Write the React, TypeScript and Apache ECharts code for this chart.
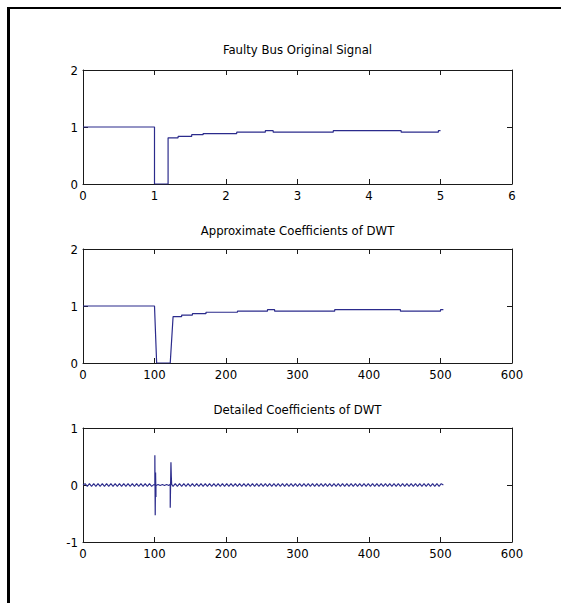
import React, { useEffect, useRef } from "react";
import * as echarts from "echarts";

// ---------- data ----------
const signalTime = [0, 1.0, 1.0, 1.19, 1.19, 1.33, 1.33, 1.52, 1.52, 1.68, 1.68, 2.15, 2.15, 2.55, 2.55, 2.66, 2.66, 3.5, 3.5, 4.45, 4.45, 4.97, 4.97, 5.0];
const signalValue = [1.0, 1.0, 0, 0, 0.81, 0.81, 0.835, 0.835, 0.865, 0.865, 0.885, 0.885, 0.91, 0.91, 0.935, 0.935, 0.91, 0.91, 0.935, 0.935, 0.91, 0.91, 0.935, 0.935];

const approxIndex = [0, 100, 103, 122, 126, 138, 138, 153, 153, 172, 172, 216, 216, 258, 258, 268, 268, 352, 352, 444, 444, 500, 500, 504];
const approxValue = [1.0, 1.0, 0, 0, 0.815, 0.815, 0.84, 0.84, 0.865, 0.865, 0.89, 0.89, 0.91, 0.91, 0.935, 0.935, 0.91, 0.91, 0.935, 0.935, 0.91, 0.91, 0.935, 0.935];

// detail coefficients read every 3rd sample (ripple)
const DETAIL_STEP = 3;
const detailRipple = [
  0, 0.024, -0.023, 0.025, -0.024, 0.023, -0.025, 0.024, -0.024, 0.023,
  -0.024, 0.025, -0.023, 0.024, -0.025, 0.024, -0.023, 0.024, -0.024, 0.025,
  -0.024, 0.023, -0.024, 0.025, -0.023, 0.024, -0.024, 0.023, -0.025, 0.024,
  -0.024, 0.023, -0.024, 0.008, -0.007, 0.008, -0.007, 0.007, -0.008, 0.007,
  -0.008, 0.024, -0.023, 0.025, -0.024, 0.023, -0.024, 0.025, -0.023, 0.024,
  -0.025, 0.024, -0.023, 0.024, -0.024, 0.025, -0.024, 0.023, -0.024, 0.025,
  -0.023, 0.024, -0.024, 0.023, -0.025, 0.024, -0.024, 0.023, -0.024, 0.025,
  -0.023, 0.024, -0.025, 0.024, -0.023, 0.024, -0.024, 0.025, -0.024, 0.023,
  -0.024, 0.025, -0.023, 0.024, -0.024, 0.023, -0.025, 0.024, -0.024, 0.023,
  -0.024, 0.025, -0.023, 0.024, -0.025, 0.024, -0.023, 0.024, -0.024, 0.025,
  -0.024, 0.023, -0.024, 0.025, -0.023, 0.024, -0.024, 0.023, -0.025, 0.024,
  -0.024, 0.023, -0.024, 0.025, -0.023, 0.024, -0.025, 0.024, -0.023, 0.024,
  -0.024, 0.025, -0.024, 0.023, -0.024, 0.025, -0.023, 0.024, -0.024, 0.023,
  -0.025, 0.024, -0.024, 0.023, -0.024, 0.025, -0.023, 0.024, -0.025, 0.024,
  -0.023, 0.024, -0.024, 0.025, -0.024, 0.023, -0.024, 0.025, -0.023, 0.024,
  -0.024, 0.023, -0.025, 0.024, -0.024, 0.023, -0.024, 0.025, -0.023, 0.024,
  -0.025, 0.024, -0.023, 0.024, -0.024, 0.025, -0.024, 0.023, 0.0,
];
const spike1Index = [100.5, 100.5, 101, 101.5, 102, 102];
const spike1Value = [0, 0.52, -0.53, 0.22, -0.21, 0];
const spike2Index = [122, 122, 123, 123.5, 124];
const spike2Value = [0, -0.4, 0.4, 0.15, 0];

const titles = ["Faulty Bus Original Signal", "Approximate Coefficients of DWT", "Detailed Coefficients of DWT"];
const xRanges = [
  { min: 0, max: 6, interval: 1 },
  { min: 0, max: 600, interval: 100 },
  { min: 0, max: 600, interval: 100 },
];
const yRanges = [
  { min: 0, max: 2, interval: 1 },
  { min: 0, max: 2, interval: 1 },
  { min: -1, max: 1, interval: 1 },
];

// ---------- layout ----------
const FONT = "'Liberation Sans Narrow', 'DejaVu Sans Condensed', 'Arial Narrow', sans-serif";
const FONT_SIZE = 13;
const PLOT_LEFT = 83;
const PLOT_WIDTH = 429;
const PLOT_HEIGHT = 114;
const PLOT_TOPS = [70, 249, 428];
const TITLE_Y = [49, 230, 409];
const LINE_COLOR = "#2b2b8c";
const AXIS_COLOR = "#1a1a1a";

const zip = (a: number[], b: number[]) => a.map((v, i) => [v, b[i]]);

export default function App() {
  const ref = useRef<HTMLDivElement>(null);
  useEffect(() => {
    if (!ref.current) return;
    const chart = echarts.init(ref.current, undefined, { renderer: "svg" });

    const grid = PLOT_TOPS.map((top) => ({ left: PLOT_LEFT, top, width: PLOT_WIDTH, height: PLOT_HEIGHT }));
    const axisLine = { show: true, onZero: false, lineStyle: { color: AXIS_COLOR, width: 1 } };
    const axisTick = { show: true, inside: true, length: 5, lineStyle: { color: AXIS_COLOR, width: 1 } };
    const labelStyle = { color: "#000", fontSize: FONT_SIZE, fontFamily: FONT, showMinLabel: true, showMaxLabel: true };

    const xAxis: any[] = [];
    const yAxis: any[] = [];
    for (let i = 0; i < 3; i++) {
      xAxis.push({
        gridIndex: i, type: "value", position: "bottom", ...xRanges[i],
        axisLine, axisTick, splitLine: { show: false },
        axisLabel: { ...labelStyle, margin: 5 },
      });
      xAxis.push({
        gridIndex: i, type: "value", position: "top", ...xRanges[i],
        axisLine, axisTick, splitLine: { show: false }, axisLabel: { show: false },
      });
      yAxis.push({
        gridIndex: i, type: "value", position: "left", ...yRanges[i],
        axisLine, axisTick, splitLine: { show: false },
        axisLabel: { ...labelStyle, margin: 5 },
      });
      yAxis.push({
        gridIndex: i, type: "value", position: "right", ...yRanges[i],
        axisLine, axisTick, splitLine: { show: false }, axisLabel: { show: false },
      });
    }

    const lineSeries = (idx: number, data: number[][], width = 1) => ({
      type: "line", xAxisIndex: idx * 2, yAxisIndex: idx * 2, data,
      symbol: "none", silent: true,
      lineStyle: { color: LINE_COLOR, width }, itemStyle: { color: LINE_COLOR },
    });

    const rippleData = detailRipple.map((v, i) => [i * DETAIL_STEP, v]);

    const graphic: any[] = titles.map((t, i) => ({
      type: "text", x: PLOT_LEFT + PLOT_WIDTH / 2, y: TITLE_Y[i],
      style: {
        text: t, fill: "#000", font: `${FONT_SIZE}px ${FONT}`,
        textAlign: "center", textVerticalAlign: "middle", align: "center", verticalAlign: "middle",
      },
    }));

    chart.setOption({
      animation: false,
      backgroundColor: "#fff",
      grid, xAxis, yAxis, graphic,
      series: [
        lineSeries(0, zip(signalTime, signalValue), 1.2),
        lineSeries(1, zip(approxIndex, approxValue), 1.2),
        lineSeries(2, rippleData, 1.1),
        lineSeries(2, zip(spike1Index, spike1Value), 1.2),
        lineSeries(2, zip(spike2Index, spike2Value), 1.2),
      ],
    });
    return () => chart.dispose();
  }, []);
  return (
    <div style={{ position: "absolute", left: 0, top: 0, width: 561, height: 603, overflow: "hidden" }}>
      <div
        ref={ref}
        style={{ position: "absolute", left: 0, top: 0, width: 561, height: 603, background: "#fff" }}
      />
      <div
        style={{
          position: "absolute", left: 7, top: 7, width: 554, height: 596,
          borderTop: "2px solid #000", borderLeft: "3px solid #000",
          boxSizing: "border-box", pointerEvents: "none",
        }}
      />
    </div>
  );
}
